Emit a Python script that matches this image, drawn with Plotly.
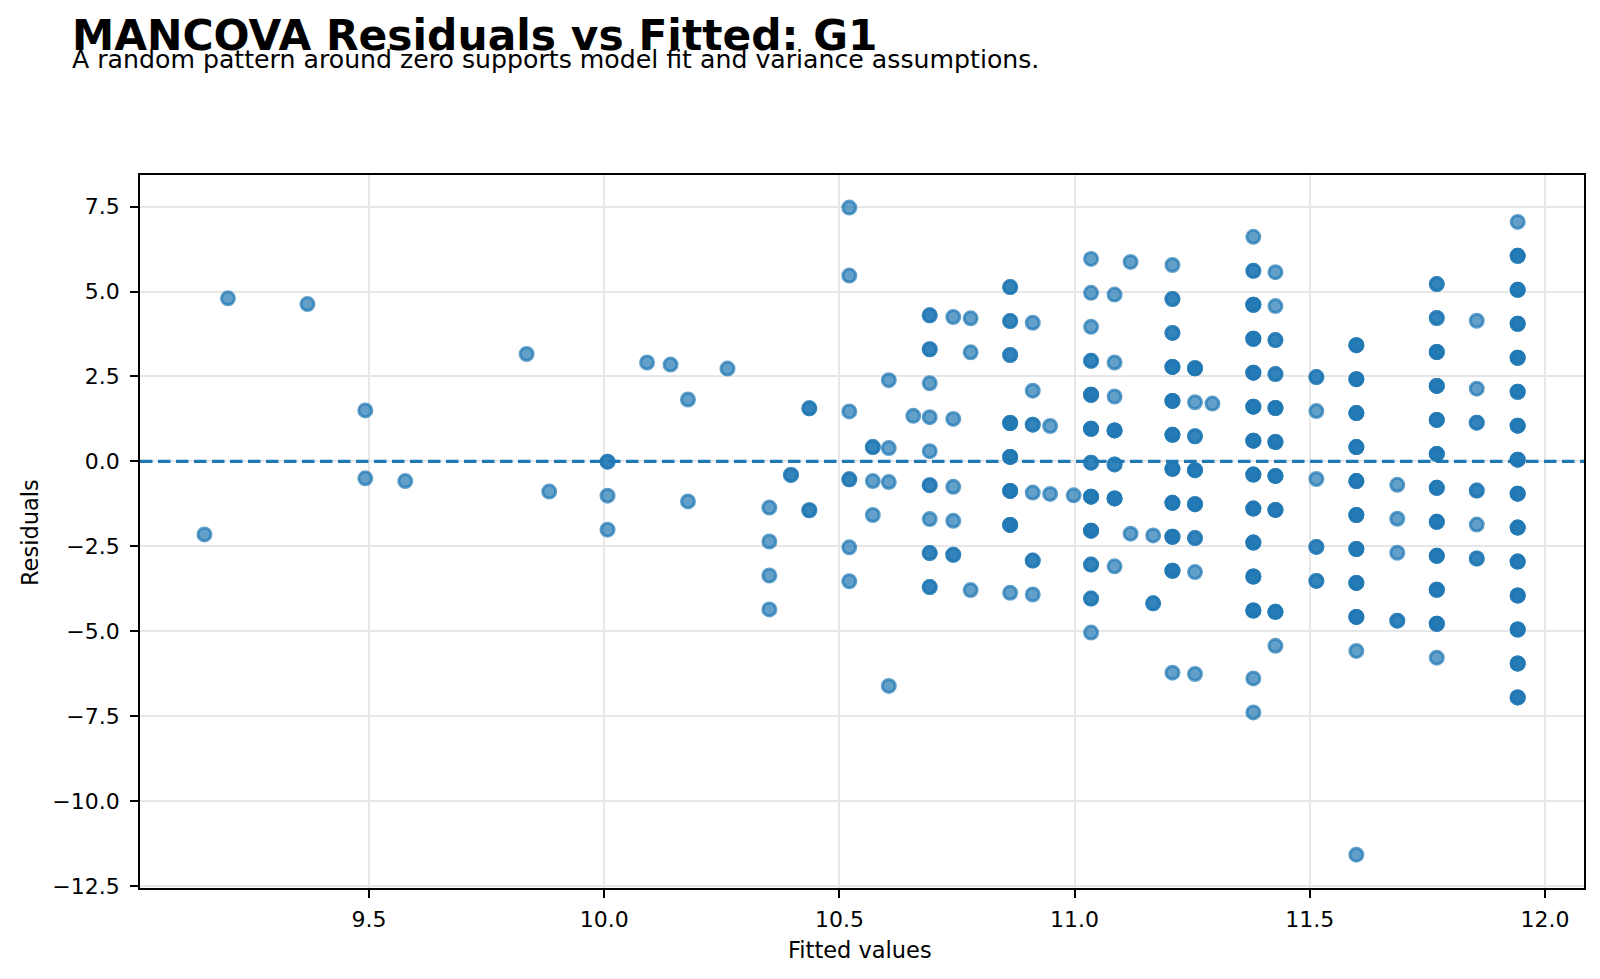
import plotly.graph_objects as go

# Fitted value of each vertical column of points
col_fitted = [9.150, 9.200, 9.369, 9.492, 9.577, 9.835, 9.883, 10.007, 10.091, 10.141,
              10.178, 10.262, 10.351, 10.397, 10.436, 10.521, 10.571, 10.605, 10.657, 10.692,
              10.742, 10.779, 10.863, 10.911, 10.948, 10.998, 11.035, 11.085, 11.119, 11.167,
              11.208, 11.256, 11.293, 11.380, 11.427, 11.514, 11.599, 11.686, 11.770, 11.855,
              11.942]

# Residuals in each column
col_resid = [
    [-2.15],
    [4.80],
    [4.63],
    [1.50, -0.50],
    [-0.58],
    [3.16],
    [-0.89],
    [-0.01, -1.01, -2.01],
    [2.91],
    [2.85],
    [1.82, -1.18],
    [2.73],
    [-1.36, -2.36, -3.36, -4.36],
    [-0.40],
    [1.56, -1.44],
    [7.47, 5.47, 1.47, -0.53, -2.53, -3.53],
    [0.42, -0.58, -1.58],
    [2.39, 0.39, -0.61, -6.61],
    [1.34],
    [4.30, 3.30, 2.30, 1.30, 0.30, -0.70, -1.70, -2.70, -3.70],
    [4.25, 1.25, -0.75, -1.75, -2.75],
    [4.21, 3.21, -3.79],
    [5.13, 4.13, 3.13, 1.13, 0.13, -0.87, -1.87, -3.87],
    [4.08, 2.08, 1.08, -0.92, -2.92, -3.92],
    [1.04, -0.96],
    [-1.00],
    [5.96, 4.96, 3.96, 2.96, 1.96, 0.96, -0.04, -1.04, -2.04, -3.04, -4.04, -5.04],
    [4.91, 2.91, 1.91, 0.91, -0.09, -1.09, -3.09],
    [5.87, -2.13],
    [-2.18, -4.18],
    [5.78, 4.78, 3.78, 2.78, 1.78, 0.78, -0.22, -1.22, -2.22, -3.22, -6.22],
    [2.74, 1.74, 0.74, -0.26, -1.26, -2.26, -3.26, -6.26],
    [1.70],
    [6.61, 5.61, 4.61, 3.61, 2.61, 1.61, 0.61, -0.39, -1.39, -2.39, -3.39, -4.39, -6.39, -7.39],
    [5.57, 4.57, 3.57, 2.57, 1.57, 0.57, -0.43, -1.43, -4.43, -5.43],
    [2.48, 1.48, -0.52, -2.52, -3.52],
    [3.42, 2.42, 1.42, 0.42, -0.58, -1.58, -2.58, -3.58, -4.58, -5.58, -11.58],
    [-0.69, -1.69, -2.69, -4.69],
    [5.22, 4.22, 3.22, 2.22, 1.22, 0.22, -0.78, -1.78, -2.78, -3.78, -4.78, -5.78],
    [4.14, 2.14, 1.14, -0.86, -1.86, -2.86],
    [7.05, 6.05, 5.05, 4.05, 3.05, 2.05, 1.05, 0.05, -0.95, -1.95, -2.95, -3.95, -4.95, -5.95, -6.95],
]

# Number of observations sharing each (fitted, residual) position
col_count = [
    [1],
    [1],
    [1],
    [1, 1],
    [1],
    [1],
    [1],
    [2, 1, 1],
    [1],
    [1],
    [1, 1],
    [1],
    [1, 1, 1, 1],
    [2],
    [2, 2],
    [1, 1, 1, 2, 1, 1],
    [2, 1, 1],
    [1, 1, 1, 1],
    [1],
    [2, 2, 1, 1, 1, 2, 1, 2, 2],
    [1, 1, 1, 1, 2],
    [1, 1, 1],
    [2, 2, 2, 3, 3, 3, 3, 1],
    [1, 1, 2, 1, 2, 1],
    [1, 1],
    [1],
    [1, 1, 1, 2, 3, 3, 2, 3, 3, 2, 2, 1],
    [1, 1, 1, 3, 2, 3, 1],
    [1, 1],
    [1, 2],
    [1, 2, 2, 3, 3, 3, 3, 3, 3, 3, 1],
    [3, 1, 2, 3, 3, 2, 1, 1],
    [1],
    [1, 2, 3, 3, 3, 3, 3, 3, 3, 3, 3, 3, 1, 1],
    [1, 1, 2, 2, 3, 3, 3, 3, 3, 1],
    [2, 1, 1, 2, 2],
    [3, 3, 3, 3, 3, 3, 3, 3, 3, 1, 1],
    [1, 1, 1, 2],
    [2, 2, 3, 3, 3, 3, 3, 3, 3, 3, 3, 1],
    [1, 1, 2, 2, 1, 2],
    [1, 3, 3, 3, 3, 3, 3, 3, 3, 3, 3, 3, 3, 3, 3],
]

title_text = "MANCOVA Residuals vs Fitted: G1"
subtitle_text = "A random pattern around zero supports model fit and variance assumptions."
x_label = "Fitted values"
y_label = "Residuals"

xs, ys = [], []
for f, rs, ns in zip(col_fitted, col_resid, col_count):
    for r, n in zip(rs, ns):
        for _ in range(n):
            xs.append(f)
            ys.append(r)

BLUE = "31,119,180"
FONT = "DejaVu Sans"

fig = go.Figure()
fig.add_trace(go.Scatter(
    x=xs, y=ys, mode="markers",
    marker=dict(size=13, color=f"rgba({BLUE},0.7)",
                line=dict(color=f"rgba({BLUE},0.7)", width=3)),
    hoverinfo="x+y", showlegend=False,
))

fig.add_hline(y=0, line=dict(color=f"rgb({BLUE})", width=3.4, dash="12.5px,5.5px"), layer="above")

L, R, T, B = 140, 16, 175, 91
W, H = 1600, 979
pw, ph = W - L - R, H - T - B

def px_x(p):
    return (p - L) / pw

def px_y(p):
    return (H - B - p) / ph

axis_common = dict(
    showline=True, linecolor="black", linewidth=1.8, mirror=True,
    ticks="outside", ticklen=8, tickwidth=1.8, tickcolor="black",
    showgrid=True, gridcolor="rgb(231,231,231)", gridwidth=1.6,
    zeroline=False, tickfont=dict(family=FONT, size=22, color="black"),
    tickformat=".1f",
)

fig.update_layout(
    width=W, height=H,
    margin=dict(l=L, r=R, t=T, b=B),
    paper_bgcolor="white", plot_bgcolor="white",
    xaxis=dict(range=[9.013, 12.083], tickmode="linear", tick0=9.5, dtick=0.5, **axis_common),
    yaxis=dict(range=[-12.56, 8.43], tickmode="linear", tick0=0, dtick=2.5, **axis_common),
    font=dict(family=FONT, color="black"),
)

fig.update_xaxes(ticklabelstandoff=3)
fig.update_yaxes(ticklabelstandoff=6)

annotations = [
    dict(text=title_text, x=px_x(70), y=px_y(36), xanchor="left", yanchor="middle",
         font=dict(family=FONT, size=42.4, color="black", weight="bold")),
    dict(text=subtitle_text, x=px_x(70), y=px_y(60), xanchor="left", yanchor="middle",
         font=dict(family=FONT, size=25.2, color="black")),
    dict(text=x_label, x=px_x(860), y=px_y(950), xanchor="center", yanchor="middle",
         font=dict(family=FONT, size=22.5, color="black")),
    dict(text=y_label, x=px_x(30), y=px_y(533), xanchor="center", yanchor="middle",
         textangle=-90, font=dict(family=FONT, size=22.5, color="black")),
]
for a in annotations:
    fig.add_annotation(xref="paper", yref="paper", showarrow=False, **a)

fig.write_html("out.html")
